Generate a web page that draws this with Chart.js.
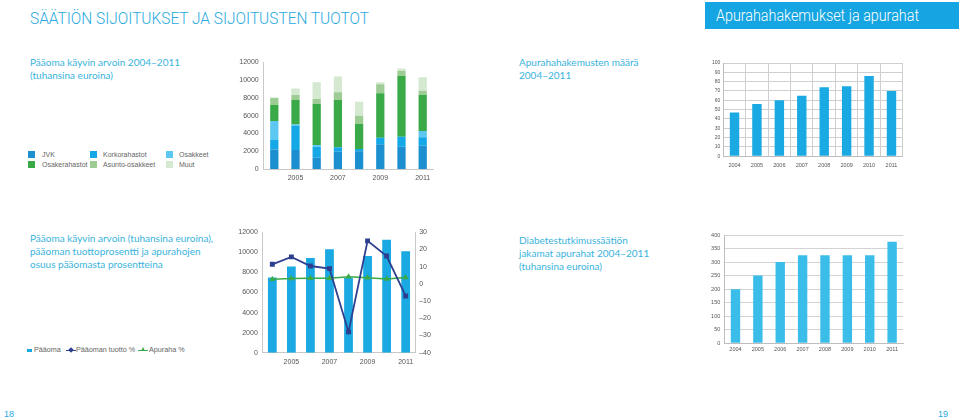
<!DOCTYPE html>
<html><head><meta charset="utf-8">
<script src="https://cdn.jsdelivr.net/npm/chart.js@4.4.1/dist/chart.umd.min.js"></script>
<style>
html,body{margin:0;padding:0;background:#fff;}
body{width:959px;height:420px;position:relative;overflow:hidden;font-family:Lato,"Open Sans",sans-serif;}
.abs{position:absolute;}
canvas.c{position:absolute;}
.hdr{left:30px;top:9px;font-family:Roboto,sans-serif;font-weight:300;font-size:16px;color:#29a9e0;white-space:nowrap;transform-origin:left center;transform:scaleX(0.965);}
.box{left:705px;top:2px;width:254px;height:27px;background:#14a5e2;}
.boxt{left:716px;top:6px;font-family:Roboto,sans-serif;font-weight:300;font-size:16px;color:#fff;white-space:nowrap;transform-origin:left center;transform:scaleX(0.895);}
.ttl{font-size:10px;line-height:13.3px;color:#39b3dc;white-space:nowrap;}
.lg{font-family:"Liberation Sans",sans-serif;font-size:7px;color:#666;white-space:nowrap;line-height:10px;}
.lg2{font-family:"Liberation Sans",sans-serif;font-size:7.2px;color:#666;white-space:nowrap;line-height:10px;}
.sw{position:absolute;width:7px;height:7px;}
.pg{font-size:9px;color:#29a9e0;font-family:"Liberation Sans",sans-serif;}
</style></head>
<body>
<div class="abs hdr">SÄÄTIÖN SIJOITUKSET JA SIJOITUSTEN TUOTOT</div>
<div class="abs box"></div>
<div class="abs boxt">Apurahahakemukset ja apurahat</div>

<div class="abs ttl" style="left:30px;top:55.5px;">Pääoma käyvin arvoin 2004–2011<br>(tuhansina euroina)</div>
<div class="abs ttl" style="left:519px;top:55.5px;">Apurahahakemusten määrä<br>2004–2011</div>
<div class="abs ttl" style="left:30px;top:231.5px;">Pääoma käyvin arvoin (tuhansina euroina),<br>pääoman tuottoprosentti ja apurahojen<br>osuus pääomasta prosentteina</div>
<div class="abs ttl" style="left:519px;top:233.5px;">Diabetestutkimussäätiön<br>jakamat apurahat 2004–2011<br>(tuhansina euroina)</div>

<!-- legend top-left -->
<div id="lg1"></div>
<!-- legend bottom-left -->
<div class="abs" style="left:27px;top:349px;width:5px;height:3px;background:#1aa9e2;"></div>
<div class="abs lg2" style="left:34px;top:345px;">Pääoma</div>
<div class="abs" style="left:66px;top:350px;width:10px;height:1.3px;background:#2e3f8f;"></div>
<div class="abs" style="left:69px;top:348px;width:4px;height:4px;background:#2e3f8f;transform:rotate(45deg);"></div>
<div class="abs lg2" style="left:76px;top:345px;">Pääoman tuotto %</div>
<div class="abs" style="left:138px;top:350px;width:10px;height:1.3px;background:#3aaa48;"></div>
<div class="abs" style="left:140.5px;top:347px;width:0;height:0;border-left:2.5px solid transparent;border-right:2.5px solid transparent;border-bottom:4.5px solid #3aaa48;"></div>
<div class="abs lg2" style="left:149px;top:345px;">Apuraha %</div>

<div class="abs pg" style="left:4px;top:409px;">18</div>
<div class="abs pg" style="left:938px;top:409px;">19</div>

<canvas id="c1" class="c" style="left:215px;top:50px;" width="230" height="140"></canvas>
<canvas id="c2" class="c" style="left:690px;top:50px;" width="225" height="125"></canvas>
<canvas id="c3" class="c" style="left:215px;top:220px;" width="230" height="150"></canvas>
<canvas id="c4" class="c" style="left:690px;top:222px;" width="225" height="135"></canvas>

<script>
// ---- data ----
const years = ['2004','2005','2006','2007','2008','2009','2010','2011'];
const jvk           = [2200, 2150, 1270, 1950, 2000, 2770, 2500, 2620];
const korkorahastot = [1050, 2700, 1230,  490,  250,  750, 1140,  940];
const osakkeet      = [2150,  150,  200,    0,    0,    0,    0,  710];
const osakerahastot = [1800, 2760, 4600, 5320, 2810, 4990, 6820, 4050];
const asuntoOsakkeet= [ 800,  550,  570,  860,  940, 1010,  600,  490];
const muut          = [   0,  750, 1880, 1770, 1570,  230,  230, 1500];

const hakemukset = [47, 56, 60, 65, 74, 75, 86, 70];

const paaoma  = [7500, 8600, 9450, 10300, 7450, 9650, 11250, 10100];
const tuotto  = [11.4, 15.7, 10.4, 8.9, -27.9, 25.0, 16.2, -7.0];
const apuraha = [2.7, 3.1, 3.3, 3.3, 4.2, 3.6, 2.9, 3.7];

const apurahat = [200, 250, 300, 325, 325, 325, 325, 375];

const leftTicks1 = [0, 2000, 4000, 6000, 8000, 10000, 12000];
const rightTicks3 = [-40, -30, -20, -10, 0, 10, 20, 30];

// ---- styles ----
Chart.defaults.animation = false;
Chart.defaults.responsive = false;
Chart.defaults.plugins.legend.display = false;
Chart.defaults.plugins.tooltip.enabled = false;
Chart.defaults.font.family = '"Liberation Sans", Arial, sans-serif';
Chart.defaults.color = '#555';

const stackSeries = [
  {label:'JVK', data:jvk, color:'#1b8fcf'},
  {label:'Korkorahastot', data:korkorahastot, color:'#14a8e6'},
  {label:'Osakkeet', data:osakkeet, color:'#5cc8f1'},
  {label:'Osakerahastot', data:osakerahastot, color:'#3aaa48'},
  {label:'Asunto-osakkeet', data:asuntoOsakkeet, color:'#9dcc95'},
  {label:'Muut', data:muut, color:'#d4e9d0'}
];

// legend top-left (HTML)
(function(){
  const lg = document.getElementById('lg1');
  const pos = [[28,151],[90,151],[166,151],[28,161],[90,161],[166,161]];
  const tx = [42,103,179];
  stackSeries.forEach((s,i)=>{
    const [x,y] = pos[i];
    const sw = document.createElement('div');
    sw.className='sw'; sw.style.left=x+'px'; sw.style.top=y+'px'; sw.style.background=s.color;
    lg.appendChild(sw);
    const t = document.createElement('div');
    t.className='abs lg'; t.style.left=tx[i%3]+'px'; t.style.top=(y-1.5)+'px'; t.textContent=s.label;
    lg.appendChild(t);
  });
})();

const fixW = w => (s => { s.width = w; });
const fixH = h => (s => { s.height = h; });
const plain = v => String(v);

// Chart 1: stacked
new Chart(document.getElementById('c1'), {
  type:'bar',
  data:{labels:years, datasets: stackSeries.map(s=>({label:s.label, data:s.data, backgroundColor:s.color, stack:'a', barPercentage:0.78, categoryPercentage:0.5}))},
  options:{
    layout:{padding:{top:12.3, right:11.7, left:0, bottom:0}},
    scales:{
      x:{stacked:true, grid:{display:false, drawTicks:false}, border:{display:true, color:'#c8c8c8'},
         afterFit:fixH(21),
         ticks:{autoSkip:false, maxRotation:0, padding:5, font:{size:7}, color:'#555',
                callback:(v,i)=> (i%2===1 ? years[i] : '')}},
      y:{stacked:true, min:0, max:12000, grid:{display:false, drawTicks:false}, border:{display:true, color:'#c8c8c8'},
         afterFit:fixW(48.7),
         afterBuildTicks:s=>{ s.ticks = leftTicks1.map(v=>({value:v})); },
         ticks:{padding:5, font:{size:7}, color:'#555', callback:plain}}
    }
  }
});

// Chart 2: applications
new Chart(document.getElementById('c2'), {
  type:'bar',
  data:{labels:years, datasets:[{label:'Hakemukset', data:hakemukset, backgroundColor:'#1aa9e2', barPercentage:0.84, categoryPercentage:0.5}]},
  options:{
    layout:{padding:{top:13, right:12.3, left:0, bottom:0}},
    scales:{
      x:{grid:{display:true, color:'#cfcfcf', drawTicks:false, offset:true}, border:{display:true, color:'#bdbdbd'},
         afterFit:fixH(18.7),
         ticks:{autoSkip:false, maxRotation:0, padding:6, font:{size:5.5}, color:'#555'}},
      y:{min:0, max:100, grid:{color:'#cfcfcf', drawTicks:false}, border:{display:true, color:'#bdbdbd'},
         afterFit:fixW(33.3),
         ticks:{stepSize:10, padding:3, font:{size:5}, color:'#555', callback:plain}}
    }
  }
});

// Chart 3: combo
new Chart(document.getElementById('c3'), {
  data:{labels:years, datasets:[
    {type:'line', label:'Pääoman tuotto %', data:tuotto, yAxisID:'y2', borderColor:'#2e3f8f', backgroundColor:'#2e3f8f', borderWidth:1.8, pointStyle:'rect', pointRadius:2.2, tension:0, order:0},
    {type:'line', label:'Apuraha %', data:apuraha, yAxisID:'y2', borderColor:'#3aaa48', backgroundColor:'#3aaa48', borderWidth:1.5, pointStyle:'triangle', pointRadius:2, tension:0, order:1},
    {type:'bar', label:'Pääoma', data:paaoma, yAxisID:'y', backgroundColor:'#1aa9e2', barPercentage:0.92, categoryPercentage:0.5, order:2}
  ]},
  options:{
    layout:{padding:{top:12.3, right:0, left:0, bottom:0}},
    scales:{
      x:{grid:{display:false, drawTicks:false}, border:{display:true, color:'#c8c8c8'},
         afterFit:fixH(17.3),
         ticks:{autoSkip:false, maxRotation:0, padding:5.5, font:{size:7}, color:'#555',
                callback:(v,i)=> (i%2===1 ? years[i] : '')}},
      y:{position:'left', min:0, max:12000, grid:{display:false, drawTicks:false}, border:{display:true, color:'#c8c8c8'},
         afterFit:fixW(47.8),
         afterBuildTicks:s=>{ s.ticks = leftTicks1.map(v=>({value:v})); },
         ticks:{padding:5, font:{size:7}, color:'#555', callback:plain}},
      y2:{position:'right', min:-40, max:30, grid:{display:false, drawTicks:false}, border:{display:true, color:'#c8c8c8'},
         afterFit:fixW(29.8),
         afterBuildTicks:s=>{ s.ticks = rightTicks3.map(v=>({value:v})); },
         ticks:{padding:4, font:{size:7}, color:'#555', callback:v=> (v<0 ? '–'+Math.abs(v) : String(v))}}
    }
  }
});

// Chart 4: grants
new Chart(document.getElementById('c4'), {
  type:'bar',
  data:{labels:years, datasets:[{label:'Apurahat', data:apurahat, backgroundColor:'#3bbdea', barPercentage:0.84, categoryPercentage:0.5}]},
  options:{
    layout:{padding:{top:13, right:11.7, left:0, bottom:0}},
    scales:{
      x:{grid:{display:false, drawTicks:false}, border:{display:true, color:'#bdbdbd'},
         afterFit:fixH(13.7),
         ticks:{autoSkip:false, maxRotation:0, padding:3, font:{size:5.5}, color:'#555'}},
      y:{min:0, max:400, grid:{color:'#d3d3d3', drawTicks:false}, border:{display:true, color:'#bdbdbd'},
         afterFit:fixW(34.3),
         ticks:{stepSize:50, padding:4, font:{size:5.5}, color:'#555', callback:plain}}
    }
  }
});
</script>
</body></html>
